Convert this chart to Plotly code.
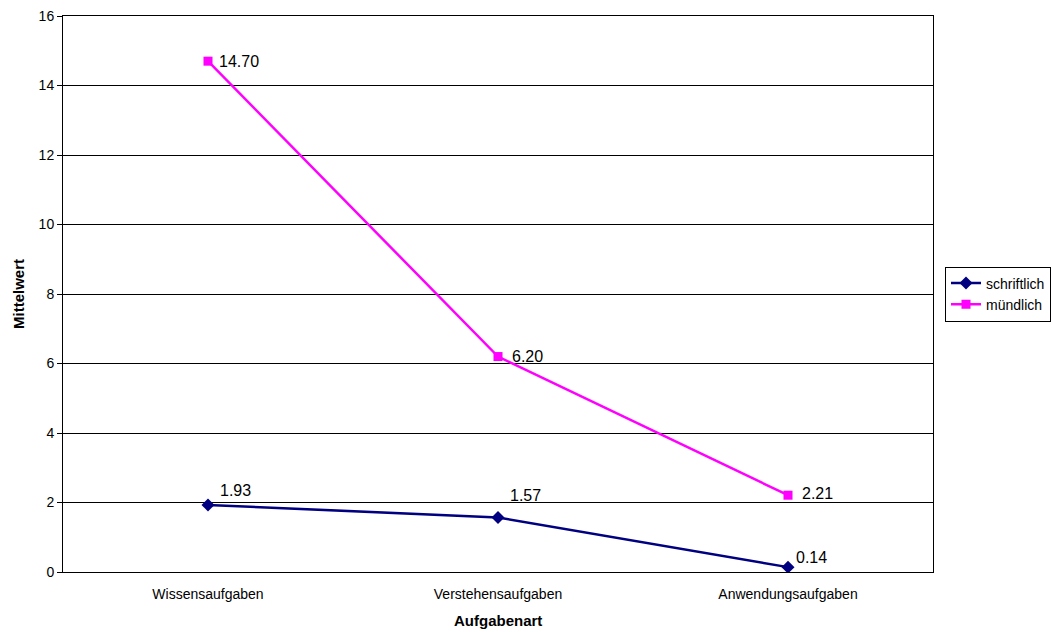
import plotly.graph_objects as go

categories = ["Wissensaufgaben", "Verstehensaufgaben", "Anwendungsaufgaben"]
schriftlich = [1.93, 1.57, 0.14]
muendlich = [14.70, 6.20, 2.21]
y_ticks = [0, 2, 4, 6, 8, 10, 12, 14, 16]

# label offsets in pixels (x, y) relative to each point
schriftlich_offsets = [(10, 14), (10, 22), (6, 10)]
muendlich_offsets = [(9, 0), (12, 0), (12, 2)]

FONT = "Arial, Liberation Sans, sans-serif"

fig = go.Figure()
fig.add_trace(go.Scatter(
    x=categories, y=schriftlich, name="schriftlich", mode="lines+markers",
    line=dict(color="#000080", width=2.5),
    marker=dict(symbol="diamond", size=10, color="#000080"),
))
fig.add_trace(go.Scatter(
    x=categories, y=muendlich, name="mündlich", mode="lines+markers",
    line=dict(color="#FF00FF", width=2.5),
    marker=dict(symbol="square", size=9, color="#FF00FF"),
))

for series, offsets in ((schriftlich, schriftlich_offsets), (muendlich, muendlich_offsets)):
    for cat, val, (dx, dy) in zip(categories, series, offsets):
        fig.add_annotation(
            x=cat, y=val, text=f"{val:.2f}", showarrow=False,
            xanchor="left", yanchor="middle", xshift=dx, yshift=dy,
            font=dict(family=FONT, size=16, color="black"),
        )

# axis titles
fig.add_annotation(
    x=0.5, y=0, xref="paper", yref="paper", text="<b>Aufgabenart</b>",
    showarrow=False, xanchor="center", yanchor="middle", yshift=-48,
    font=dict(family=FONT, size=15, color="black"),
)
fig.add_annotation(
    x=0, y=0.5, xref="paper", yref="paper", text="<b>Mittelwert</b>",
    showarrow=False, xanchor="center", yanchor="middle", xshift=-45,
    textangle=-90, font=dict(family=FONT, size=15, color="black"),
)

fig.update_layout(
    width=1052, height=632,
    margin=dict(l=63, r=119, t=16, b=60, autoexpand=False),
    paper_bgcolor="white", plot_bgcolor="white",
    font=dict(family=FONT, size=14, color="black"),
    showlegend=True,
    legend=dict(
        x=945 / 1052, y=1 - 294 / 632, xref="container", yref="container",
        xanchor="left", yanchor="middle",
        bordercolor="black", borderwidth=1, bgcolor="white",
        font=dict(family=FONT, size=14), tracegroupgap=0,
        itemwidth=30,
    ),
)
fig.update_xaxes(
    type="category", range=[-0.5, 2.5], automargin=False,
    showline=True, linecolor="black", linewidth=1, mirror=True,
    showgrid=False, ticks="", tickfont=dict(size=14),
    ticklabelstandoff=9,
)
fig.update_yaxes(
    range=[0, 16], tickvals=y_ticks, automargin=False,
    showline=True, linecolor="black", linewidth=1, mirror=True,
    showgrid=True, gridcolor="black", gridwidth=1,
    ticks="outside", ticklen=5, tickcolor="black", tickfont=dict(size=14),
    zeroline=False,
)

fig.write_html("out.html")
